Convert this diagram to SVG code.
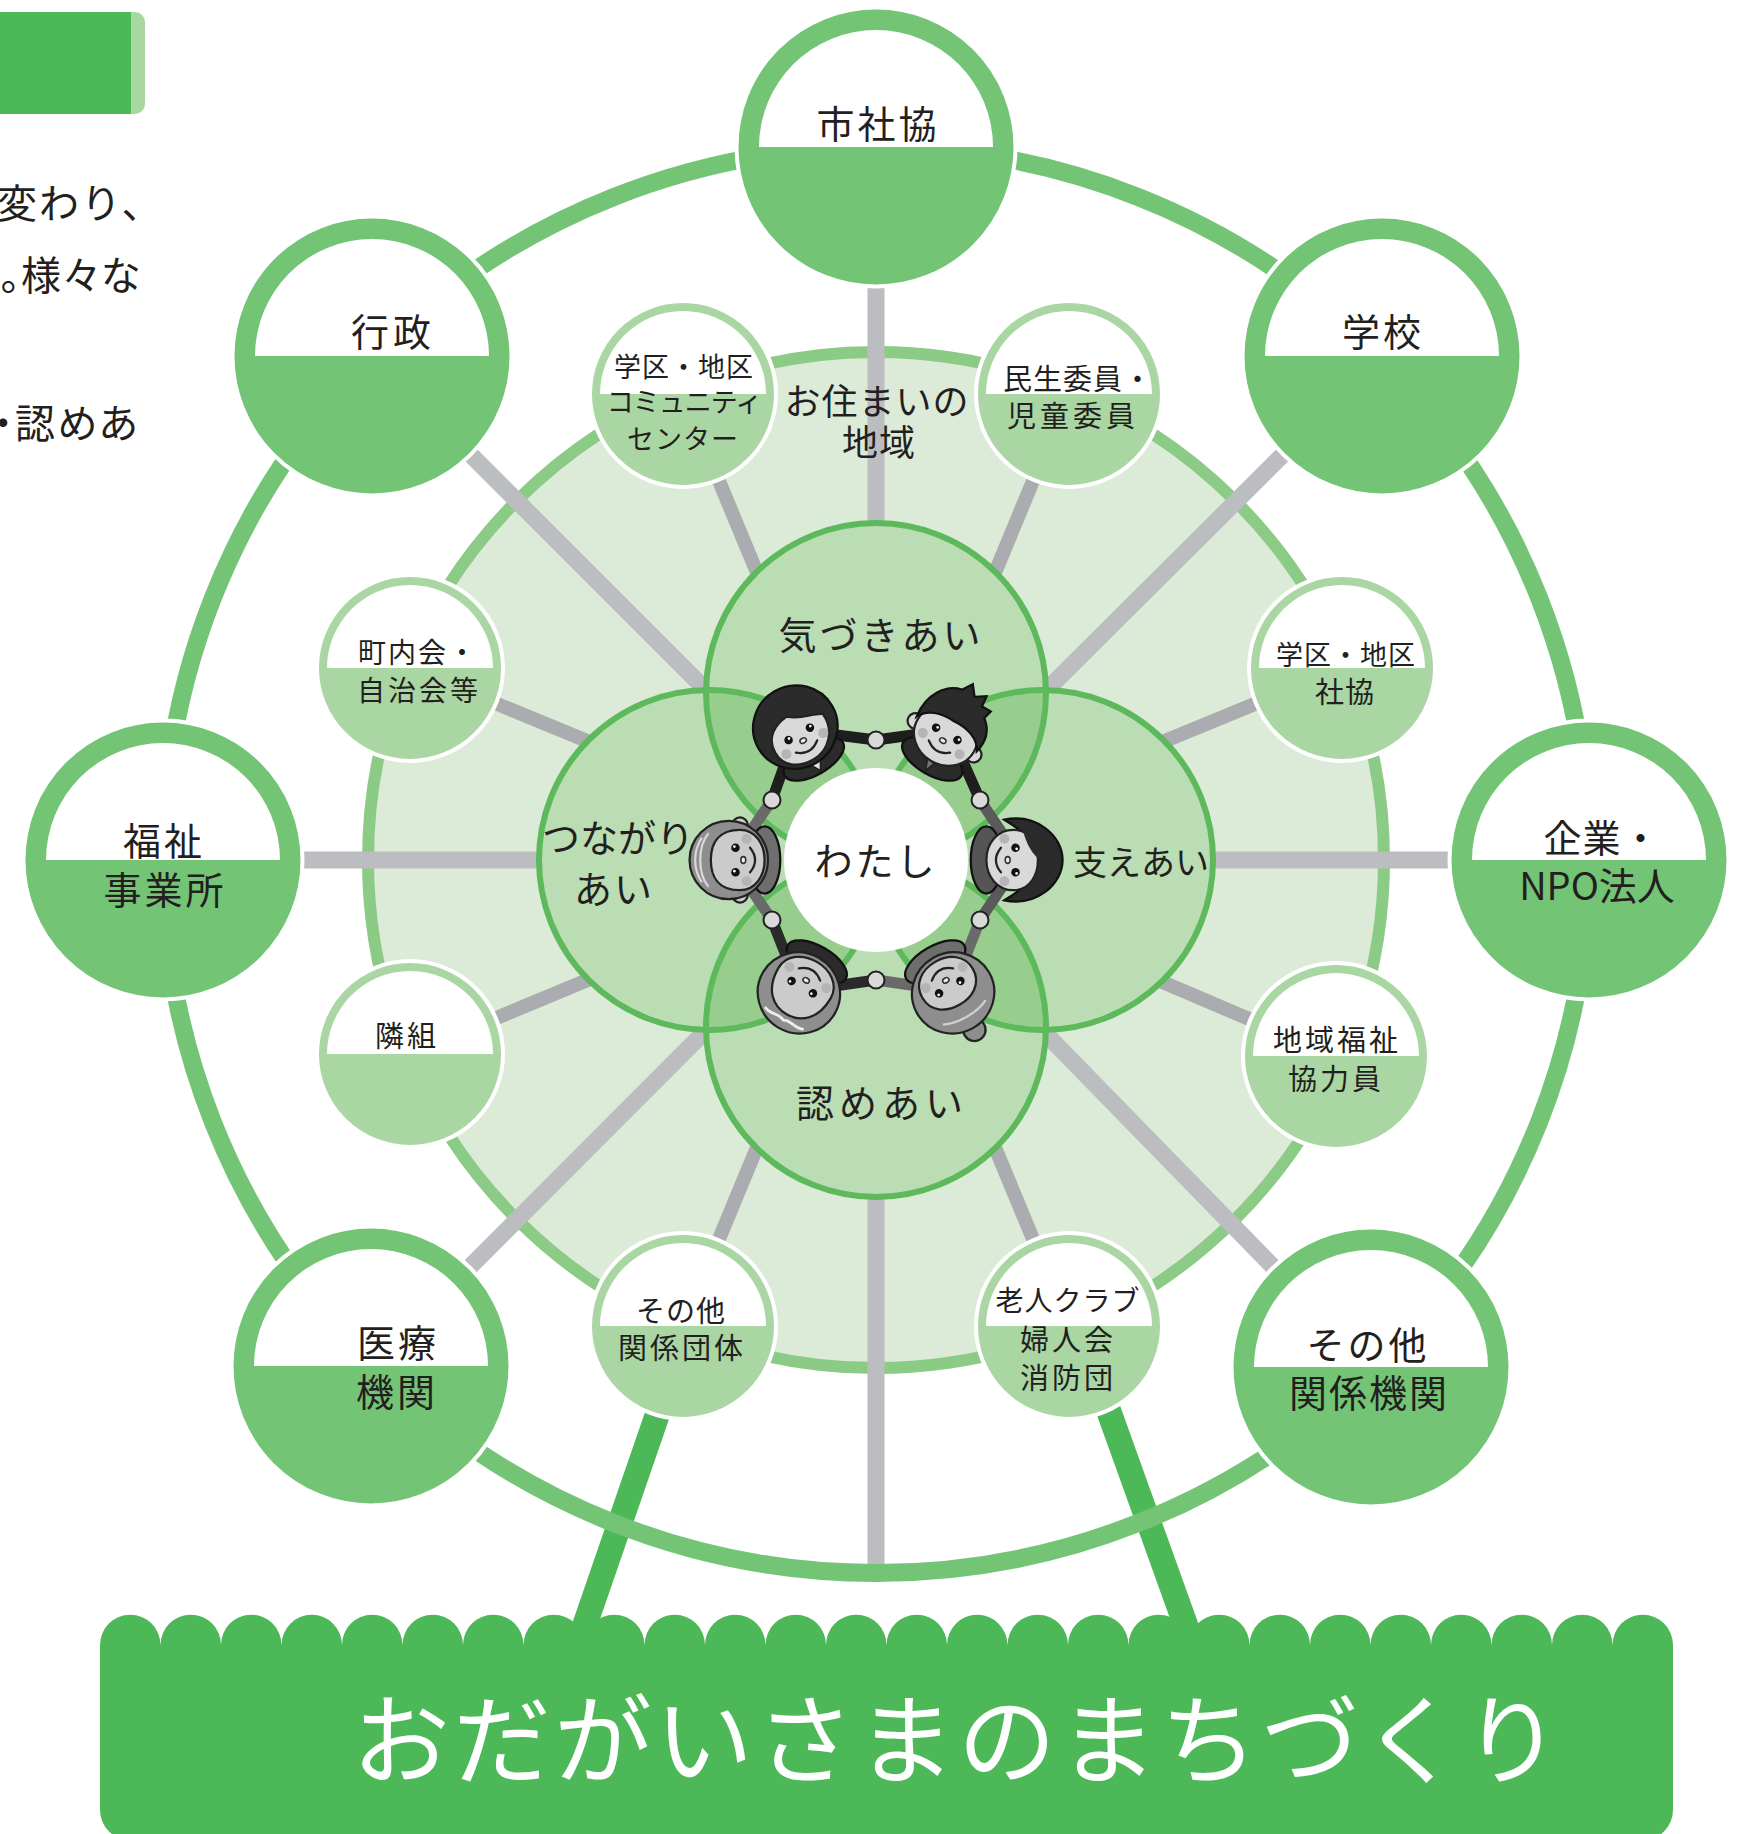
<svg xmlns="http://www.w3.org/2000/svg" xmlns:xlink="http://www.w3.org/1999/xlink" width="1749" height="1834" viewBox="0 0 1749 1834">
  <style>
    text { font-family: "Noto Sans CJK JP", "Noto Sans JP", sans-serif; fill: #231F20; }
    .para { font-size: 40px; letter-spacing: 2px; }
    .prop { font-feature-settings: "palt"; }
    .big { font-size: 38px; letter-spacing: 3px; text-anchor: middle; }
    .small { font-size: 27px; letter-spacing: 1px; text-anchor: middle; }
    .mid { font-size: 38px; letter-spacing: 3px; text-anchor: middle; }
    .title { font-size: 98px; letter-spacing: 3px; text-anchor: middle; fill: #FFFFFF; }
    .spoke { stroke: #BCBDC1; stroke-width: 17; }
    .spoke2 { stroke: #ABACB0; stroke-width: 14; }
    .bigc { fill: #74C476; stroke: #FFFFFF; stroke-width: 4; }
    .smallc { fill: #A9D6A2; stroke: #FFFFFF; stroke-width: 4; }
    .half { fill: #FFFFFF; }
    .inner { fill: #BBDDB3; }
    .lens { fill: #97CE8E; }
    .innerline { fill: none; stroke: #5DB95C; stroke-width: 6; }
    .arm { fill: none; stroke-width: 11; stroke-linecap: round; }
    .hand { fill: #D9D9D9; stroke: #222222; stroke-width: 2; }
    .skin { fill: #D9D9D9; stroke: #222222; stroke-width: 2; }
    .oldskin { fill: #CBCBCB; stroke: #222222; stroke-width: 2; }
  </style>
  <defs>
    <clipPath id="cT"><circle cx="876" cy="693" r="170"/></clipPath>
    <clipPath id="cB"><circle cx="876" cy="1027" r="170"/></clipPath>
    <!-- shared face features: eyes, nose, mouth, cheeks (head top = -y) -->
    <g id="ff">
      <circle cx="-19" cy="14" r="4.5" fill="#B5B5B5"/>
      <circle cx="19" cy="14" r="4.5" fill="#B5B5B5"/>
      <circle cx="-11" cy="4" r="3.8" fill="#111111"/>
      <circle cx="11" cy="4" r="3.8" fill="#111111"/>
      <circle cx="-10" cy="3" r="1.2" fill="#FFFFFF"/>
      <circle cx="12" cy="3" r="1.2" fill="#FFFFFF"/>
      <ellipse cx="0" cy="11" rx="3" ry="2.2" fill="#EEEEEE" stroke="#333333" stroke-width="1.4"/>
      <path d="M-11,17 Q0,26 11,17" fill="none" stroke="#222222" stroke-width="2" stroke-linecap="round"/>
    </g>
  </defs>

  <!-- heading bar and paragraph fragment on the left edge -->
  <g id="header">
    <path d="M0,12 H135 A10,10 0 0 1 145,22 V104 A10,10 0 0 1 135,114 H0 Z" fill="#A9D7A2"/>
    <rect x="0" y="12" width="131" height="102" fill="#4CB857"/>
    <text class="para" x="-3" y="218">変わり、</text>
    <text class="para prop" x="0" y="290" style="letter-spacing:1px">。様々な</text>
    <text class="para prop" x="-7" y="438">・認めあ</text>
  </g>

  <!-- support legs -->
  <g id="legs" stroke="#4CB857" stroke-width="25">
    <line x1="690" y1="1320" x2="571" y2="1665"/>
    <line x1="1076" y1="1320" x2="1200" y2="1665"/>
  </g>

  <!-- neighbourhood disc -->
  <circle id="area" cx="876" cy="860" r="508" fill="#DBEBD7" stroke="#8BCB85" stroke-width="12"/>

  <g id="connectors">
    <g class="spoke">
      <line x1="876" y1="860" x2="876" y2="147"/>
      <line x1="876" y1="860" x2="876" y2="1573"/>
      <line x1="876" y1="860" x2="163" y2="860"/>
      <line x1="876" y1="860" x2="1589" y2="860"/>
      <line x1="876" y1="860" x2="372" y2="356"/>
      <line x1="876" y1="860" x2="1382" y2="356"/>
      <line x1="876" y1="860" x2="371" y2="1366"/>
      <line x1="876" y1="860" x2="1371" y2="1367"/>
    </g>
    <g class="spoke2">
      <line x1="876" y1="860" x2="683" y2="394"/>
      <line x1="876" y1="860" x2="1069" y2="394"/>
      <line x1="876" y1="860" x2="410" y2="668"/>
      <line x1="876" y1="860" x2="1342" y2="668"/>
      <line x1="876" y1="860" x2="410" y2="1054"/>
      <line x1="876" y1="860" x2="1336" y2="1056"/>
      <line x1="876" y1="860" x2="683" y2="1326"/>
      <line x1="876" y1="860" x2="1069" y2="1326"/>
    </g>
  </g>

  <!-- outer wheel rim -->
  <circle id="rim" cx="876" cy="860" r="713" fill="none" stroke="#74C476" stroke-width="18"/>

  <!-- four overlapping circles -->
  <g id="core">
    <circle class="inner" cx="876" cy="693" r="170"/>
    <circle class="inner" cx="709" cy="860" r="170"/>
    <circle class="inner" cx="1043" cy="860" r="170"/>
    <circle class="inner" cx="876" cy="1027" r="170"/>
    <circle class="lens" cx="709" cy="860" r="170" clip-path="url(#cT)"/>
    <circle class="lens" cx="1043" cy="860" r="170" clip-path="url(#cT)"/>
    <circle class="lens" cx="709" cy="860" r="170" clip-path="url(#cB)"/>
    <circle class="lens" cx="1043" cy="860" r="170" clip-path="url(#cB)"/>
    <circle class="innerline" cx="876" cy="693" r="170"/>
    <circle class="innerline" cx="709" cy="860" r="170"/>
    <circle class="innerline" cx="1043" cy="860" r="170"/>
    <circle class="innerline" cx="876" cy="1027" r="170"/>
    <circle cx="876" cy="860" r="92" fill="#FFFFFF"/>
  </g>

  <!-- six people holding hands around the centre -->
  <g id="people">
    <path class="arm" stroke="#1E1E1E" d="M797,730 L876,740 M797,730 L772,800"/>
    <path class="arm" stroke="#1E1E1E" d="M949,730 L876,740 M949,730 L980,800"/>
    <path class="arm" stroke="#5A5A5A" d="M1020,860 L980,800 M1020,860 L980,920"/>
    <path class="arm" stroke="#6A6A6A" d="M952,991 L980,920 M952,991 L876,980"/>
    <path class="arm" stroke="#2A2A2A" d="M800,991 L876,980 M800,991 L772,920"/>
    <path class="arm" stroke="#6A6A6A" d="M731,860 L772,920 M731,860 L772,800"/>

    <!-- young woman -->
    <g transform="translate(797,730) rotate(-30) scale(1.12)">
      <ellipse cx="0" cy="30" rx="30" ry="14" fill="#2B2B2B" stroke="#111111" stroke-width="2"/>
      <path d="M-9,26 L0,42 L9,26 Z" fill="#E6E6E6" stroke="#222222" stroke-width="1.5"/>
      <ellipse cx="0" cy="-3" rx="38" ry="37" fill="#2B2B2B" stroke="#111111" stroke-width="2"/>
      <path class="skin" d="M-27,8 C-27,-8 -14,-14 -2,-15 C8,-6 20,-6 27,-1 C29,16 16,30 0,30 C-16,30 -27,22 -27,8 Z"/>
      <use href="#ff"/>
    </g>
    <!-- young man -->
    <g transform="translate(949,730) rotate(30) scale(1.12)">
      <ellipse cx="0" cy="30" rx="30" ry="14" fill="#2B2B2B" stroke="#111111" stroke-width="2"/>
      <path d="M-6,26 L0,42 L6,26 Z" fill="#777777" stroke="#222222" stroke-width="1.5"/>
      <circle class="skin" cx="-30" cy="8" r="7"/>
      <circle class="skin" cx="30" cy="8" r="7"/>
      <ellipse class="skin" cx="0" cy="6" rx="29" ry="26"/>
      <path d="M-31,4 C-34,-18 -22,-34 -8,-37 L-2,-46 L5,-37 L14,-43 L15,-33 L24,-33 L22,-25 C31,-18 34,-8 31,4 C26,-6 14,-10 0,-9 C-14,-10 -26,-6 -31,4 Z" fill="#2B2B2B" stroke="#111111" stroke-width="2"/>
      <use href="#ff"/>
    </g>
    <!-- woman on the right -->
    <g transform="translate(1020,860) rotate(90) scale(1.12)">
      <ellipse cx="0" cy="30" rx="30" ry="14" fill="#555555" stroke="#111111" stroke-width="2"/>
      <path d="M-36,14 C-42,-14 -22,-38 0,-38 C22,-38 42,-14 36,14 C30,4 26,-2 20,-6 L-20,-6 C-26,-2 -30,4 -36,14 Z" fill="#2B2B2B" stroke="#111111" stroke-width="2"/>
      <path class="skin" d="M-27,6 C-27,-10 -12,-16 0,-16 C12,-16 27,-10 27,6 C27,20 15,30 0,30 C-15,30 -27,20 -27,6 Z"/>
      <path d="M-28,-2 C-20,-14 -10,-18 2,-20 C-6,-10 -14,-6 -28,-2 Z" fill="#2B2B2B"/>
      <use href="#ff"/>
    </g>
    <!-- elderly woman -->
    <g transform="translate(952,991) rotate(150) scale(1.12)">
      <ellipse cx="0" cy="30" rx="30" ry="14" fill="#6E6E6E" stroke="#111111" stroke-width="2"/>
      <circle cx="0" cy="-40" r="10" fill="#8E8E8E" stroke="#222222" stroke-width="2"/>
      <ellipse cx="0" cy="-2" rx="37" ry="36" fill="#8E8E8E" stroke="#222222" stroke-width="2"/>
      <path class="oldskin" d="M-26,8 C-26,-8 -12,-14 0,-14 C12,-14 26,-8 26,8 C26,22 14,30 0,30 C-14,30 -26,22 -26,8 Z"/>
      <path d="M-22,-22 C-10,-28 10,-28 22,-22" fill="none" stroke="#D0D0D0" stroke-width="2"/>
      <use href="#ff"/>
    </g>
    <!-- elderly man, bottom -->
    <g transform="translate(800,991) rotate(-150) scale(1.12)">
      <ellipse cx="0" cy="30" rx="30" ry="14" fill="#2B2B2B" stroke="#111111" stroke-width="2"/>
      <ellipse cx="0" cy="-2" rx="37" ry="36" fill="#8E8E8E" stroke="#222222" stroke-width="2"/>
      <path class="oldskin" d="M-27,8 C-27,-14 -14,-24 0,-24 C14,-24 27,-14 27,8 C27,22 14,30 0,30 C-14,30 -27,22 -27,8 Z"/>
      <path d="M-20,-28 C-12,-32 -6,-26 0,-30 C6,-26 12,-32 20,-28" fill="none" stroke="#EEEEEE" stroke-width="2.5"/>
      <use href="#ff"/>
    </g>
    <!-- elderly man, left -->
    <g transform="translate(731,860) rotate(-90) scale(1.12)">
      <ellipse cx="0" cy="30" rx="30" ry="14" fill="#6E6E6E" stroke="#111111" stroke-width="2"/>
      <circle class="oldskin" cx="-31" cy="8" r="7"/>
      <circle class="oldskin" cx="31" cy="8" r="7"/>
      <ellipse cx="0" cy="-2" rx="35" ry="35" fill="#8E8E8E" stroke="#222222" stroke-width="2"/>
      <path class="oldskin" d="M-27,8 C-27,-12 -14,-18 0,-18 C14,-18 27,-12 27,8 C27,22 14,30 0,30 C-14,30 -27,22 -27,8 Z"/>
      <path d="M-24,-20 C-12,-30 12,-30 24,-20 M-20,-26 C-8,-34 8,-34 20,-26" fill="none" stroke="#D8D8D8" stroke-width="2"/>
      <use href="#ff"/>
    </g>

    <circle class="hand" cx="876" cy="740" r="8.5"/>
    <circle class="hand" cx="980" cy="800" r="8.5"/>
    <circle class="hand" cx="980" cy="920" r="8.5"/>
    <circle class="hand" cx="876" cy="980" r="8.5"/>
    <circle class="hand" cx="772" cy="920" r="8.5"/>
    <circle class="hand" cx="772" cy="800" r="8.5"/>
  </g>

  <!-- inner labels -->
  <g id="core-labels">
    <text class="mid" x="877" y="415" style="font-size:36px;letter-spacing:1px">お住まいの</text>
    <text class="mid" x="879" y="456" style="font-size:36px;letter-spacing:1px">地域</text>
    <text class="mid" x="881" y="649">気づきあい</text>
    <text class="mid" x="618" y="852" style="letter-spacing:0px">つながり</text>
    <text class="mid" x="614" y="903" style="letter-spacing:2px">あい</text>
    <text class="mid" x="1141" y="875" style="font-size:34px;letter-spacing:0px">支えあい</text>
    <text class="mid" x="882" y="1117" style="letter-spacing:5px">認めあい</text>
    <text class="mid" x="876" y="875">わたし</text>
  </g>

  <!-- small member circles -->
  <g id="n-gakku-center">
    <circle class="smallc" cx="683" cy="394" r="93"/>
    <path class="half" d="M600,394 A83,83 0 0 1 766,394 Z"/>
    <text class="small" x="684" y="377">学区・地区</text>
    <text class="small" x="684" y="412" style="letter-spacing:-1px">コミュニティ</text>
    <text class="small" x="683" y="449">センター</text>
  </g>
  <g id="n-minsei">
    <circle class="smallc" cx="1069" cy="394" r="93"/>
    <path class="half" d="M986,394 A83,83 0 0 1 1152,394 Z"/>
    <text class="small" x="1078" y="390" style="font-size:29px">民生委員・</text>
    <text class="small" x="1073" y="427" style="font-size:29px;letter-spacing:4px">児童委員</text>
  </g>
  <g id="n-chonaikai">
    <circle class="smallc" cx="410" cy="668" r="93"/>
    <path class="half" d="M327,668 A83,83 0 0 1 493,668 Z"/>
    <text class="small" x="418" y="663" style="font-size:28px;letter-spacing:2px">町内会・</text>
    <text class="small" x="419" y="701" style="font-size:28px;letter-spacing:3px">自治会等</text>
  </g>
  <g id="n-gakku-shakyo">
    <circle class="smallc" cx="1342" cy="668" r="93"/>
    <path class="half" d="M1259,668 A83,83 0 0 1 1425,668 Z"/>
    <text class="small" x="1346" y="665">学区・地区</text>
    <text class="small" x="1345" y="703" style="font-size:29px">社協</text>
  </g>
  <g id="n-tonarigumi">
    <circle class="smallc" cx="410" cy="1054" r="93"/>
    <path class="half" d="M327,1054 A83,83 0 0 1 493,1054 Z"/>
    <text class="small" x="407" y="1047" style="font-size:29px;letter-spacing:3px">隣組</text>
  </g>
  <g id="n-kyoryokuin">
    <circle class="smallc" cx="1336" cy="1056" r="93"/>
    <path class="half" d="M1253,1056 A83,83 0 0 1 1419,1056 Z"/>
    <text class="small" x="1337" y="1051" style="font-size:29px;letter-spacing:3px">地域福祉</text>
    <text class="small" x="1336" y="1090" style="font-size:29px;letter-spacing:3px">協力員</text>
  </g>
  <g id="n-dantai">
    <circle class="smallc" cx="683" cy="1326" r="93"/>
    <path class="half" d="M600,1326 A83,83 0 0 1 766,1326 Z"/>
    <text class="small" x="681" y="1322" style="font-size:29px">その他</text>
    <text class="small" x="682" y="1359" style="font-size:29px;letter-spacing:3px">関係団体</text>
  </g>
  <g id="n-rojin">
    <circle class="smallc" cx="1069" cy="1326" r="93"/>
    <path class="half" d="M986,1326 A83,83 0 0 1 1152,1326 Z"/>
    <text class="small" x="1068" y="1311" style="font-size:28px">老人クラブ</text>
    <text class="small" x="1068" y="1351" style="font-size:29px;letter-spacing:3px">婦人会</text>
    <text class="small" x="1068" y="1389" style="font-size:29px;letter-spacing:3px">消防団</text>
  </g>

  <!-- large organisation circles on the rim -->
  <g id="n-shishakyo">
    <circle class="bigc" cx="876" cy="147" r="139.5"/>
    <path class="half" d="M759,147 A117,117 0 0 1 993,147 Z"/>
    <text class="big" x="878" y="138">市社協</text>
  </g>
  <g id="n-gyosei">
    <circle class="bigc" cx="372" cy="356" r="139.5"/>
    <path class="half" d="M255,356 A117,117 0 0 1 489,356 Z"/>
    <text class="big" x="393" y="346" style="letter-spacing:4px">行政</text>
  </g>
  <g id="n-gakko">
    <circle class="bigc" cx="1382" cy="356" r="139.5"/>
    <path class="half" d="M1265,356 A117,117 0 0 1 1499,356 Z"/>
    <text class="big" x="1383" y="346">学校</text>
  </g>
  <g id="n-fukushi">
    <circle class="bigc" cx="163" cy="860" r="139.5"/>
    <path class="half" d="M46,860 A117,117 0 0 1 280,860 Z"/>
    <text class="big" x="164" y="855">福祉</text>
    <text class="big" x="165" y="904">事業所</text>
  </g>
  <g id="n-kigyo">
    <circle class="bigc" cx="1589" cy="860" r="139.5"/>
    <path class="half" d="M1472,860 A117,117 0 0 1 1706,860 Z"/>
    <text class="big" x="1602" y="852" style="letter-spacing:1px">企業・</text>
    <text class="big" x="1597" y="900" style="letter-spacing:0px">NPO法人</text>
  </g>
  <g id="n-iryo">
    <circle class="bigc" cx="371" cy="1366" r="139.5"/>
    <path class="half" d="M254,1366 A117,117 0 0 1 488,1366 Z"/>
    <text class="big" x="398" y="1357">医療</text>
    <text class="big" x="397" y="1406">機関</text>
  </g>
  <g id="n-kikan">
    <circle class="bigc" cx="1371" cy="1367" r="139.5"/>
    <path class="half" d="M1254,1367 A117,117 0 0 1 1488,1367 Z"/>
    <text class="big" x="1368" y="1359">その他</text>
    <text class="big" x="1369" y="1407" style="letter-spacing:2px">関係機関</text>
  </g>

  <!-- scalloped base banner -->
  <g id="banner">
    <path fill="#4CB857" d="M100,1645
      a30.25,30.25 0 0 1 60.5,0 a30.25,30.25 0 0 1 60.5,0 a30.25,30.25 0 0 1 60.5,0 a30.25,30.25 0 0 1 60.5,0
      a30.25,30.25 0 0 1 60.5,0 a30.25,30.25 0 0 1 60.5,0 a30.25,30.25 0 0 1 60.5,0 a30.25,30.25 0 0 1 60.5,0
      a30.25,30.25 0 0 1 60.5,0 a30.25,30.25 0 0 1 60.5,0 a30.25,30.25 0 0 1 60.5,0 a30.25,30.25 0 0 1 60.5,0
      a30.25,30.25 0 0 1 60.5,0 a30.25,30.25 0 0 1 60.5,0 a30.25,30.25 0 0 1 60.5,0 a30.25,30.25 0 0 1 60.5,0
      a30.25,30.25 0 0 1 60.5,0 a30.25,30.25 0 0 1 60.5,0 a30.25,30.25 0 0 1 60.5,0 a30.25,30.25 0 0 1 60.5,0
      a30.25,30.25 0 0 1 60.5,0 a30.25,30.25 0 0 1 60.5,0 a30.25,30.25 0 0 1 60.5,0 a30.25,30.25 0 0 1 60.5,0
      a30.25,30.25 0 0 1 60.5,0 a30.25,30.25 0 0 1 60.5,0
      V1810 a30,30 0 0 1 -30,30 H130 a30,30 0 0 1 -30,-30 Z"/>
    <text class="title" x="958" y="1776">おだがいさまのまちづくり</text>
  </g>
</svg>
